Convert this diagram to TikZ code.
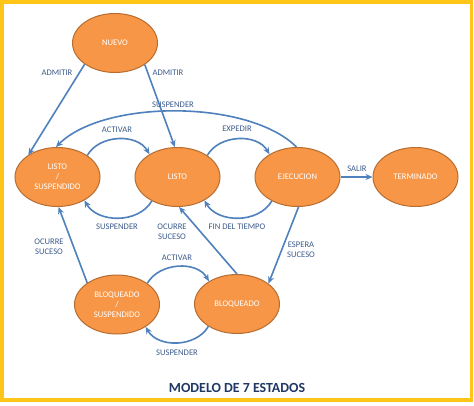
\documentclass[tikz,border=0pt]{standalone}
\usepackage{fontspec}
\setmainfont{Carlito}
\usetikzlibrary{shapes.geometric,arrows.meta}
\definecolor{stfill}{HTML}{F79646}
\definecolor{stdraw}{HTML}{B66D31}
\definecolor{arrblue}{HTML}{4F81BD}
\definecolor{lblblue}{HTML}{3E5C8C}
\definecolor{ttlblue}{HTML}{1F3864}
\definecolor{frameyel}{HTML}{FFC519}
\tikzset{
  state/.style={ellipse,fill=stfill,draw=stdraw,line width=1pt,minimum width=85pt,minimum height=59pt,inner sep=0pt,text=white,font=\fontsize{8.6}{10}\selectfont,align=center},
  conn/.style={draw=arrblue,line width=1.6pt,-{Stealth[length=7pt,width=6pt]}},
  lbl/.style={text=lblblue,font=\fontsize{8.6}{10}\selectfont,align=center,inner sep=1pt}
}
\begin{document}
\begin{tikzpicture}[x=1pt,y=-1pt]
\useasboundingbox (0,0) rectangle (474,405);
\fill[white] (0,0) rectangle (474,405);
\draw[frameyel,line width=3.6pt] (2,1.8) rectangle (471.6,400);

\node[state] (nuevo) at (115,43) {NUEVO};
\node[state] (ls) at (57.5,177) {LISTO\\/\\SUSPENDIDO};
\node[state] (listo) at (177.5,177) {LISTO};
\node[state] (ejec) at (297.5,177) {EJECUCION};
\node[state] (term) at (415.5,177) {TERMINADO};
\node[state] (bs) at (117,304.5) {BLOQUEADO\\/\\SUSPENDIDO};
\node[state] (bloq) at (237,304) {BLOQUEADO};

% ADMITIR
\draw[conn] (nuevo.215) -- (ls.143);
\draw[conn] (nuevo.324) -- (listo.95);
\node[lbl] (l1) at (57,73) {ADMITIR};
\node[lbl] (l2) at (168,73) {ADMITIR};

% big SUSPENDER
\draw[conn] (ejec.92) to[out=135,in=45,looseness=0.72] (ls.93);
\node[lbl] (l3) at (173,105) {SUSPENDER};

% ACTIVAR / SUSPENDER between LS and LISTO
\draw[conn] (ls.36) to[out=60,in=120] (listo.141);
\node[lbl] (l4) at (117,130) {ACTIVAR};
\draw[conn] (listo.223) to[out=-120,in=-60] (ls.319);
\node[lbl] (l5) at (117,227) {SUSPENDER};

% EXPEDIR / FIN DEL TIEMPO
\draw[conn] (listo.36) to[out=60,in=120] (ejec.141);
\node[lbl] (l6) at (237,129) {EXPEDIR};
\draw[conn] (ejec.223) to[out=-120,in=-60] (listo.319);
\node[lbl] (l7) at (237,227) {FIN DEL TIEMPO};

% SALIR
\draw[conn] (ejec.east) -- (term.west);
\node[lbl] (l8) at (357,169) {SALIR};

% ESPERA SUCESO
\draw[conn] (ejec.272) -- (bloq.33);
\node[lbl] (l9) at (301,250) {ESPERA\\SUCESO};

% OCURRE SUCESO (bloq -> listo)
\draw[conn] (bloq.90) -- (listo.273);
\node[lbl] (l10) at (172,232) {OCURRE\\SUCESO};

% OCURRE SUCESO (bs -> ls)
\draw[conn] (bs.144) -- (ls.272);
\node[lbl] (l11) at (49,247) {OCURRE\\SUCESO};

% ACTIVAR / SUSPENDER between BS and BLOQ
\draw[conn] (bs.35) to[out=60,in=120] (bloq.141);
\node[lbl] (l12) at (177,258) {ACTIVAR};
\draw[conn] (bloq.218) to[out=-120,in=-60] (bs.322);
\node[lbl] (l13) at (177,353) {SUSPENDER};

\node[text=ttlblue,font=\bfseries\fontsize{13.9}{16}\selectfont] (title) at (237,388) {MODELO DE 7 ESTADOS};
\end{tikzpicture}
\end{document}
